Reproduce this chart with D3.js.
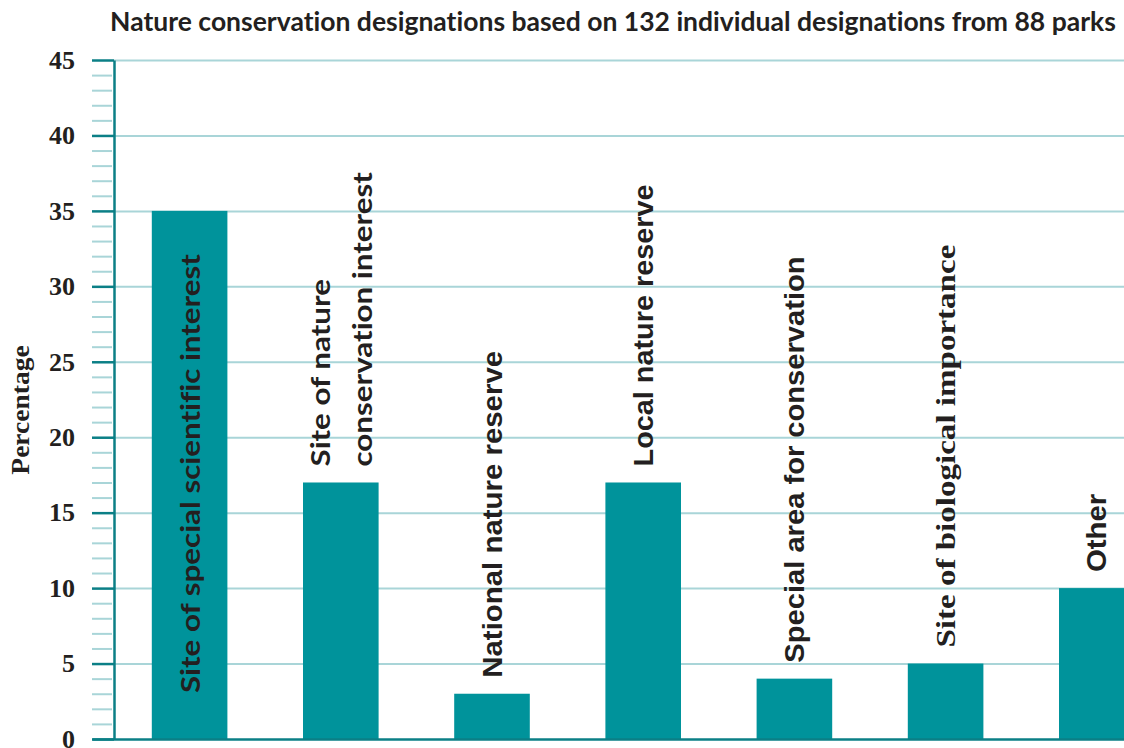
<!DOCTYPE html>
<html>
<head>
<meta charset="utf-8">
<script src="https://cdn.jsdelivr.net/npm/d3@7"></script>
<style>
  html, body { margin: 0; padding: 0; background: #fff; }
  svg { display: block; }
  text { font-variant-ligatures: none; font-feature-settings: "liga" 0, "clig" 0; }
</style>
</head>
<body>
<div id="chart"></div>
<script>
(function() {
  'use strict';

  // Data.
  var title = 'Nature conservation designations based on 132 individual designations from 88 parks';
  var yLabel = 'Percentage';
  var categories = ['SSSI', 'SNCI', 'NNR', 'LNR', 'SAC', 'SBI', 'Other'];
  var values = [35, 17, 3, 17, 4, 5, 10];
  var labelLines = [
    ['Site of special scientific interest'],
    ['Site of nature', 'conservation interest'],
    ['National nature reserve'],
    ['Local nature reserve'],
    ['Special area for conservation'],
    ['Site of biological importance'],
    ['Other']
  ];
  var majorTicks = [0, 5, 10, 15, 20, 25, 30, 35, 40, 45];
  var minorTicks = [1, 2, 3, 4, 6, 7, 8, 9, 11, 12, 13, 14, 16, 17, 18, 19, 21, 22, 23, 24,
                    26, 27, 28, 29, 31, 32, 33, 34, 36, 37, 38, 39, 41, 42, 43, 44];

  // Label type faces (the original mixes them).
  var labelFonts = [
    {family: 'Lato', size: 27, stretch: 1.16},
    {family: 'Lato', size: 27, stretch: 1.16},
    {family: '"Liberation Sans", Arial', size: 28, stretch: 1.05},
    {family: '"Liberation Sans", Arial', size: 28, stretch: 1.03},
    {family: '"Liberation Sans", Arial', size: 28, stretch: 1.04},
    {family: '"Liberation Serif", "Times New Roman"', size: 28, stretch: 1.18},
    {family: '"Liberation Sans", Arial', size: 28, stretch: 1.05}
  ];

  var width = 1124, height = 748;
  var margin = {top: 60, left: 114, bottom: 9};
  var tickLen = 22;

  var barColor = '#00939b',
      axisColor = '#0b7f86',
      gridColor = '#a9d5d8',
      textColor = '#231f20';

  var svg = d3.select('#chart').append('svg')
      .attr('width', width)
      .attr('height', height);

  var y = d3.scaleLinear()
      .domain([0, 45])
      .range([height - margin.bottom, margin.top]);

  var step = 151.2;
  var x = d3.scaleBand()
      .domain(categories)
      .range([margin.left, margin.left + step * categories.length])
      .paddingInner(0.5)
      .paddingOuter(0.25);

  // Gridlines at the major ticks.
  svg.append('g')
      .attr('transform', 'translate(' + margin.left + ',0)')
      .call(d3.axisRight(y).tickValues(majorTicks.slice(1)).tickSize(width - margin.left).tickFormat(''))
      .call(function(g) {
        g.select('.domain').remove();
        g.selectAll('line').attr('stroke', gridColor).attr('stroke-width', 2);
      });

  // Minor ticks.
  svg.append('g')
      .attr('transform', 'translate(' + (margin.left - 2) + ',0)')
      .call(d3.axisLeft(y).tickValues(minorTicks).tickSize(tickLen - 2).tickFormat(''))
      .call(function(g) {
        g.select('.domain').remove();
        g.selectAll('line').attr('stroke', gridColor).attr('stroke-width', 2);
      });

  // Bars.
  svg.append('g').selectAll('rect')
      .data(values)
      .join('rect')
      .attr('x', function(d, i) { return x(categories[i]); })
      .attr('y', function(d) { return y(d); })
      .attr('width', x.bandwidth())
      .attr('height', function(d) { return y(0) - y(d); })
      .attr('fill', barColor);

  // Major ticks, labels and y axis line.
  svg.append('g')
      .attr('transform', 'translate(' + margin.left + ',0)')
      .call(d3.axisLeft(y).tickValues(majorTicks).tickSize(tickLen).tickPadding(17).tickSizeOuter(0))
      .call(function(g) {
        g.select('.domain').attr('stroke', axisColor).attr('stroke-width', 2.5);
        g.selectAll('line').attr('stroke', axisColor).attr('stroke-width', 2.5);
        g.selectAll('text')
            .attr('fill', textColor)
            .style('font-family', '"Liberation Serif", "Times New Roman", serif')
            .style('font-weight', 'bold')
            .style('font-size', '26px');
      });

  // Baseline.
  svg.append('g')
      .attr('transform', 'translate(0,' + y(0) + ')')
      .call(d3.axisBottom(d3.scaleLinear().range([margin.left - tickLen, width])).ticks(0).tickSizeOuter(0))
      .call(function(g) {
        g.select('.domain').attr('stroke', axisColor).attr('stroke-width', 2.5);
      });

  // Bar labels, rotated.
  var lineGap = 42, labelGap = 16, insideOffset = 46;
  categories.forEach(function(c, i) {
    var f = labelFonts[i];
    var lines = labelLines[i];
    var cx = x(c) + x.bandwidth() / 2;
    var g = svg.append('g');
    var texts = lines.map(function(line, j) {
      var t = g.append('text')
          .attr('transform', 'rotate(-90)')
          .attr('dominant-baseline', 'central')
          .attr('text-anchor', 'start')
          .attr('fill', textColor)
          .style('font-family', f.family)
          .style('font-weight', 'bold')
          .style('font-size', f.size + 'px')
          .text(line);
      var len = t.node().getComputedTextLength() * f.stretch;
      t.attr('textLength', len).attr('lengthAdjust', 'spacingAndGlyphs');
      return {node: t, len: len, off: (j - (lines.length - 1) / 2) * lineGap};
    });
    var maxLen = d3.max(texts, function(d) { return d.len; });
    var start = y(values[i]) - labelGap;
    if (start - maxLen < margin.top) start = y(0) - insideOffset;
    texts.forEach(function(d) {
      d.node.attr('x', -start).attr('y', cx + d.off);
    });
  });

  // Title.
  svg.append('text')
      .attr('x', 613)
      .attr('y', 31)
      .attr('text-anchor', 'middle')
      .attr('fill', textColor)
      .style('font-family', 'Lato, sans-serif')
      .style('font-weight', 'bold')
      .style('font-size', '26.5px')
      .text(title);

  // Y axis title.
  var yt = svg.append('text')
      .attr('transform', 'translate(29,410) rotate(-90)')
      .attr('text-anchor', 'middle')
      .attr('fill', textColor)
      .style('font-family', '"Liberation Serif", "Times New Roman", serif')
      .style('font-weight', 'bold')
      .style('font-size', '25px')
      .text(yLabel);
  yt.attr('textLength', yt.node().getComputedTextLength() * 1.1)
    .attr('lengthAdjust', 'spacingAndGlyphs');
})();
</script>
</body>
</html>
